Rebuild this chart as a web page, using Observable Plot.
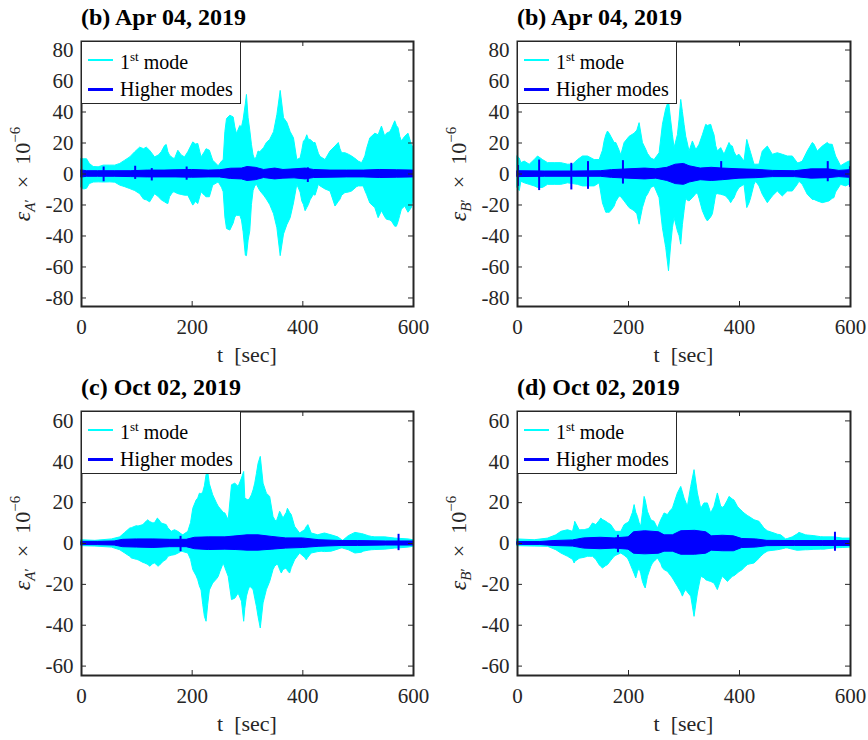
<!DOCTYPE html>
<html>
<head>
<meta charset="utf-8">
<script src="https://cdn.jsdelivr.net/npm/d3@7"></script>
<script src="https://cdn.jsdelivr.net/npm/@observablehq/plot@0.6"></script>
<style>
  body { margin: 0; background: #fff; }
  #fig { position: relative; width: 868px; height: 740px; overflow: hidden;
         font-family: "Liberation Serif", "DejaVu Serif", serif; color: #262626; }
  .panel { position: absolute; width: 434px; height: 370px; }
  .panel svg { position: absolute; left: 0; top: 0; overflow: visible; }
  .title { position: absolute; font-weight: bold; font-size: 24px; color: #000; white-space: nowrap; line-height: 1; }
  .ylab { position: absolute; font-size: 22px; white-space: nowrap; line-height: 1;
          transform: translate(-50%, -50%) rotate(-90deg); }
  .ylab .eps { font-size: 24px; }
  .ylab sub { font-size: 15px; vertical-align: -5px; }
  .ylab sup { font-size: 15px; vertical-align: 10px; }
  .xlab { position: absolute; font-size: 22px; white-space: nowrap; line-height: 1; transform: translateX(-50%); }
  .legend { position: absolute; width: 160px; height: 63px; background: #fff;
            border: 1.5px solid #262626; box-sizing: border-box; }
  .legend .sw { position: absolute; left: 6px; width: 25px; }
  .legend .lt { position: absolute; left: 38px; font-size: 20px; color: #000; white-space: nowrap; line-height: 1; }
  .legend .lt sup { font-size: 13px; vertical-align: 8px; }
</style>
</head>
<body>
<div id="fig"></div>
<script>
// Strain envelopes [t (sec), upper, lower] in units of 1e-6.
// First-mode component, sensor A', Apr 04 2019
const aprA_first = [
[0,9.7,-9],[5,9.5,-10],[10,9.5,-9.5],[15,6.5,-6.5],[22,4.5,-5.5],[31,4.3,-5.4],[40,5.4,-5.5],[52,5.4,-5.4],[61,5.4,-5.6],[70,6.5,-7.5],[79,8.6,-8.5],[88,10.7,-9.7],[97,14,-11],[106,17,-13],[113,16,-16.5],[118,17,-17],[124,15,-18.3],[133,10.7,-13],[140,12,-15],[145,14,-17],[151,18,-18.3],[154,18.7,-19],[157,14,-19.4],[160,11.8,-15],[166,10,-11.8],[169,9.7,-12],[175,15,-13],[181,12,-13.5],[187,10.7,-14],[193,14,-14],[202,20.4,-20.4],[207,19,-18],[211,19.4,-19.4],[217,10.7,-11.8],[223,14,-14],[226,16,-15],[232,15,-15],[238,8.6,-7.5],[248,5,-5.4],[254,8,-9],[257,9,-11.8],[260,27,-28],[263,35.5,-35.5],[269,37.6,-36.5],[275,36.5,-32],[278,30,-28],[281,25.8,-27],[287,31,-27],[290,30,-30],[293,35,-37.6],[297,45,-52.7],[299,51,-53],[302,36,-43],[305,28,-37],[308,18.8,-20],[311,12,-11],[314,9,-8],[317,11,-7],[320,14.5,-9],[323,14,-11],[330,16.7,-14],[335,20,-16.5],[341,22,-20],[348,27,-26],[354,38,-35],[360,53.6,-53],[366,36,-39],[372,33,-33],[378,27,-28.5],[384,23,-19],[390,9,-7],[396,10,-12],[399,15,-17.7],[402,21,-20],[405,22,-24],[408,25,-22],[411,22,-20],[414,22,-17],[420,20,-13.4],[423,20,-14],[429,13,-7],[432,11,-8],[441,9,-10],[450,14.5,-11.3],[459,17.7,-21],[465,20,-18],[468,16,-16.6],[471,13.4,-14],[477,13.4,-12.3],[483,12.5,-12],[489,11.3,-11.3],[498,9,-8.5],[501,8,-8],[507,7,-8],[510,9,-8],[513,11.3,-11],[516,16,-13.4],[522,23,-19],[531,26,-22],[537,25,-28.5],[543,30.6,-24],[549,24,-28],[552,26,-29.5],[558,27,-30],[561,29,-30.6],[567,34,-34],[570,31,-34],[573,29.5,-31],[576,24,-27],[579,21,-23],[585,24,-21],[591,26,-25],[597,18.8,-22],[600,16.7,-15.5]
];
const aprA_higher = [
[0,2.3,-2.3],[10,1.8,-1.8],[30,1.8,-1.8],[60,1.8,-1.8],[90,1.8,-2],[120,2.2,-2.2],[150,2.2,-2.2],[170,2.4,-2.2],[200,2.6,-2.4],[230,2.2,-2.2],[250,2.4,-2.2],[270,3.4,-3.2],[290,3.5,-3.5],[300,4.5,-4.5],[315,4,-4],[330,2.6,-2.6],[350,3.5,-3.5],[365,2.6,-3],[385,3,-2.8],[405,3.5,-3.5],[420,2.6,-2.6],[450,2.2,-2.4],[480,2.2,-2.2],[510,2.2,-2.2],[540,2.6,-2.6],[570,2.4,-2.4],[600,2.2,-2.2]
];
const aprA_bursts = [[40,4.5,-5],[97,5,-3.5],[127,3.5,-4.5],[190,4.5,-4],[409,4,-5.5]];

// Sensor B', Apr 04 2019
const aprB_first = [
[0,11.3,-9],[4,10,-11],[7,7,-5],[13,8,-6],[22,6,-7],[31,9,-8],[37,11.3,-9],[46,9,-9],[55,7,-7],[67,7,-7],[79,7,-7],[91,6,-6],[100,6,-6.5],[109,9,-7],[118,11.3,-8],[127,11.3,-8],[139,9,-8],[148,9,-6],[154,15,-19],[157,21,-22],[160,25,-25],[163,27.4,-25],[166,26,-25],[169,24,-24],[175,20,-21],[178,20,-18],[184,15,-14.5],[187,12,-15],[193,20,-17.7],[202,24,-22],[211,26,-24],[216,28,-26],[220,32.8,-32.7],[226,20,-22],[232,15.6,-15],[235,13,-13.4],[241,10,-9],[247,9,-8],[256,13.4,-15.6],[262,31.7,-35],[268,42,-47.8],[273,47,-62.8],[277,34,-45.6],[280,25,-35],[283,16.7,-28.4],[289,25,-37],[292,35,-40],[295,47.8,-45.6],[298,40,-33],[301,31.7,-24],[304,24,-15.6],[306,21,-17],[310,14.5,-17.7],[316,21,-15.6],[322,15.6,-13],[325,17,-12.4],[328,18.8,-16],[334,25,-24],[340,31.7,-29],[343,31,-30.6],[349,31.7,-28],[352,28,-26],[355,25,-20],[358,18,-13.4],[361,14.5,-13],[367,16.7,-13.4],[373,12.4,-14],[376,15,-14.5],[382,20,-17],[385,18,-18.8],[388,17.7,-17],[391,14,-15.6],[395,11.3,-12],[400,12.4,-9],[409,8,-7],[414,22,-22],[418,17,-19],[421,13.4,-15.6],[427,6,-7],[430,6,-5],[436,6,-8],[442,14.5,-13.4],[451,17.7,-18.8],[460,12.4,-14.5],[469,13.4,-11.3],[478,12.4,-14.5],[487,11.3,-11.3],[496,11.3,-11.3],[505,7,-7],[508,7,-5],[514,8,-7],[523,14.5,-13.4],[532,20,-16.7],[535,19,-16.7],[541,14.5,-17.7],[550,17.7,-18.8],[559,20,-18],[562,19,-17.7],[568,18.8,-16],[571,15,-15.6],[574,11.3,-12],[583,5,-7],[592,7,-8],[598,8,-7],[600,8,-7]
];
const aprB_higher = [
[0,1.8,-2],[50,1.6,-1.8],[100,1.6,-1.8],[150,1.8,-1.8],[170,2.5,-2.5],[200,3,-3],[230,3.5,-3.5],[250,3,-3],[270,4,-4.5],[285,6,-6.5],[300,6.5,-7],[310,5,-5.5],[330,3.5,-4],[350,4,-4.5],[370,3.5,-4],[400,3,-3],[430,2.7,-2.7],[460,2,-2],[500,1.8,-2],[530,3,-3],[560,3,-2.7],[580,2,-2],[600,2.5,-2.5]
];
const aprB_bursts = [[1,5.5,-8],[39,9,-10.7],[97,6.9,-10.3],[127,8,-9.9],[190,8.6,-6.5],[367,8,-3.9],[559,8,-5],[599,4.7,-8.6]];

// Sensor A', Oct 02 2019
const octA_first = [
[0,1.6,-1.3],[25,1.3,-1.5],[55,2,-2],[70,3,-3.3],[79,5.2,-4.9],[88,7.3,-6.5],[91,7.5,-7.3],[100,8.5,-8],[103,8.3,-8.2],[112,9,-9.5],[115,10,-9.8],[121,11.4,-10.5],[124,10.5,-11.4],[130,9.8,-10],[133,10,-9.8],[138,12.2,-11],[139,12,-11.4],[145,9.8,-10],[148,9.5,-9],[154,9,-8],[157,7.5,-6.5],[163,5.7,-6],[169,6.5,-5.7],[175,5.7,-5],[181,4.5,-4],[184,4,-4.2],[193,5.7,-4.9],[198,10,-8],[202,17,-13],[208,21,-16],[211,22,-18],[214,24.4,-21],[217,24,-23],[220,25,-30],[223,28,-35.9],[226,33.4,-38.3],[229,35,-30],[232,29,-23],[238,23.6,-19.6],[245,19.5,-17.5],[248,18,-16.3],[251,17,-14],[257,15,-9.8],[260,14.7,-12],[266,11.4,-16.3],[272,28.5,-27.7],[278,29.3,-27],[284,27.7,-24.5],[290,31.8,-28.5],[294,35,-38.3],[296,22,-32],[299,21.5,-26],[302,21,-23],[305,22,-21],[308,23.6,-22],[311,26,-22.8],[314,29.3,-27],[317,34,-31],[320,39,-36],[324,42.4,-41.6],[329,29.3,-29.3],[335,24.4,-22.8],[341,22.8,-18.8],[347,13,-13],[350,11.5,-11.4],[353,10.6,-10.6],[356,13,-10.6],[359,15.5,-13],[362,14,-14.7],[365,12.2,-13],[371,15,-12.2],[373,17,-13.5],[377,15,-14.7],[380,13.9,-12],[386,8.2,-8.2],[395,4.9,-4.9],[404,6.5,-7],[407,8,-8.2],[410,9,-7],[416,4.9,-4.9],[428,4,-4.2],[434,4.5,-4],[440,4.9,-4.2],[452,4,-4],[464,3,-3],[470,1.8,-2.4],[473,1.3,-2.5],[483,3.6,-3.3],[495,5.2,-4.9],[507,4.6,-4.5],[510,4.4,-4],[519,3.6,-3.5],[525,3.2,-3.3],[531,3,-3.2],[549,3,-3],[567,2.4,-2.5],[573,2.3,-2.4],[591,2,-2],[600,1.6,-1.6]
];
const octA_higher = [
[0,0.8,-0.8],[30,0.8,-0.8],[60,1,-1],[75,1.8,-1.8],[100,2,-2],[130,2,-2.2],[160,1.8,-1.8],[190,1.8,-1.8],[205,2.8,-2.8],[230,3,-3.2],[260,3,-3],[280,3.5,-3.2],[300,4,-3.5],[320,4,-3.5],[345,3.2,-3],[370,2.5,-2.5],[400,2.5,-2.2],[430,1.6,-1.6],[470,1.2,-1.2],[500,1.2,-1.2],[550,1,-1],[600,1,-1]
];
const octA_bursts = [[179,3.5,-4],[573,4.5,-3.5]];

// Sensor B', Oct 02 2019
const octB_first = [
[0,2,-1.3],[31,1.6,-1.5],[55,2.4,-1.6],[70,4,-3.3],[79,5.7,-4.9],[91,6.5,-6.5],[100,5.7,-8],[103,9,-9.8],[104,10.6,-9],[112,6.5,-7.5],[115,6.5,-7.3],[121,6.5,-7],[127,7,-6.5],[130,7.3,-6.5],[136,9.8,-6.5],[142,9,-8],[148,11,-10.6],[151,12.2,-11.5],[154,11.5,-12.2],[160,10.6,-11],[163,10,-10.6],[169,9,-8.5],[175,6.5,-6.5],[178,5.7,-6],[187,5.7,-4.9],[193,9,-6],[199,10,-7.3],[202,10.6,-9],[208,15,-13],[211,18.8,-15],[214,15,-17.1],[217,13,-14],[220,10,-12.2],[223,8.2,-15],[226,15,-18.8],[229,22.8,-21],[231,21,-22],[235,15.5,-16.3],[241,11.4,-11.5],[244,11,-9.8],[247,10.6,-9],[253,7.3,-7.3],[259,11.4,-10],[262,13,-12.2],[265,14.7,-13],[271,13.9,-13.9],[277,16.3,-16],[280,17,-17.1],[283,19.6,-18.5],[289,24.5,-21.2],[295,27.7,-24],[298,25,-26],[301,22,-24],[304,20,-22.8],[307,18,-24],[313,27.7,-26],[319,35.9,-35.9],[325,24.5,-24.5],[331,17,-16.3],[337,19.6,-17],[340,19.6,-18],[343,19.6,-18.3],[349,14.7,-18.8],[355,18,-19.6],[361,24.5,-22.8],[367,18,-18],[370,17.5,-16.3],[373,18,-17],[379,21,-18.8],[382,22.8,-18],[388,21.5,-16.3],[391,21,-16],[397,18,-14.7],[400,17,-14],[406,15.5,-13],[409,14.7,-12],[415,13.5,-10.6],[418,13,-10.3],[427,11.4,-9.8],[436,10.6,-7.5],[439,9.5,-6.5],[445,7.3,-5],[451,6,-4],[454,5.7,-3.8],[463,4.9,-3.5],[469,4.3,-3.3],[475,4,-3],[484,2,-2.4],[487,2.2,-2.4],[496,3,-3],[505,4.5,-3.6],[508,5.2,-3.5],[520,4,-3.3],[523,3.9,-3.3],[535,3.6,-3.1],[547,3.1,-3],[553,3,-3],[571,3,-2.4],[586,2.4,-2.2],[600,2.4,-2]
];
const octB_higher = [
[0,0.7,-0.7],[40,0.7,-0.7],[65,1.2,-1.2],[100,1.5,-1.5],[120,2.5,-2.5],[150,2.8,-2.8],[175,2.5,-2.5],[200,3,-3],[210,5.5,-5],[230,6,-5.3],[255,5.5,-5],[265,4,-4],[280,4,-4],[295,6,-5.5],[320,6.2,-5.5],[340,5.5,-5],[350,3.5,-3.5],[370,3.8,-3.8],[390,3.5,-3.8],[405,2.2,-2.2],[430,2,-2],[450,1.3,-1.3],[500,1.2,-1.2],[550,1.2,-1.2],[600,1.2,-1.2]
];
const octB_bursts = [[181,4,-4.5],[572,5.5,-3.8]];

// Axis ticks
const timeTicks = [0, 200, 400, 600];
const aprTicks = [-80, -60, -40, -20, 0, 20, 40, 60, 80];
const octTicks = [-60, -40, -20, 0, 20, 40, 60];

const CYAN = "#00FFFF", BLUE = "#0000FF", INK = "#262626";
const SERIF = "'Liberation Serif', 'DejaVu Serif', serif";

const panels = [
  {left: 0,   top: 0,   frame: {l: 81,  r: 413, t: 41,  b: 306}, yMax: 85.5, yTicks: aprTicks,
   title: "(b) Apr 04, 2019", sensor: "A", first: aprA_first, higher: aprA_higher, bursts: aprA_bursts},
  {left: 434, top: 0,   frame: {l: 517, r: 850, t: 41,  b: 306}, yMax: 85.5, yTicks: aprTicks,
   title: "(b) Apr 04, 2019", sensor: "B", first: aprB_first, higher: aprB_higher, bursts: aprB_bursts},
  {left: 0,   top: 370, frame: {l: 81,  r: 413, t: 411, b: 675}, yMax: 64.6, yTicks: octTicks,
   title: "(c) Oct 02, 2019", sensor: "A", first: octA_first, higher: octA_higher, bursts: octA_bursts},
  {left: 434, top: 370, frame: {l: 517, r: 850, t: 411, b: 675}, yMax: 64.6, yTicks: octTicks,
   title: "(d) Oct 02, 2019", sensor: "B", first: octB_first, higher: octB_higher, bursts: octB_bursts}
];

const rows = (arr) => arr.map(([t, hi, lo]) => ({t, hi, lo}));
const fig = document.getElementById("fig");

for (const p of panels) {
  const f = p.frame;
  const iw = f.r - f.l, ih = f.b - f.t;

  const chart = Plot.plot({
    width: 434, height: 370,
    marginLeft: f.l - p.left, marginRight: p.left + 434 - f.r,
    marginTop: f.t - p.top, marginBottom: p.top + 370 - f.b,
    x: {domain: [0, 600]},
    y: {domain: [-p.yMax, p.yMax]},
    style: {fontFamily: SERIF, fontSize: "21px", color: INK, background: "transparent", overflow: "visible"},
    marks: [
      Plot.areaY(rows(p.first), {x: "t", y1: "lo", y2: "hi", fill: CYAN, stroke: CYAN, strokeWidth: 1}),
      Plot.areaY(rows(p.higher), {x: "t", y1: "lo", y2: "hi", fill: BLUE, stroke: BLUE, strokeWidth: 1}),
      Plot.ruleX(rows(p.bursts), {x: "t", y1: "lo", y2: "hi", stroke: BLUE, strokeWidth: 2}),
      // inward tick marks on all four sides
      Plot.tickX(timeTicks, {x: d => d, insetTop: ih - 5, stroke: INK}),
      Plot.tickX(timeTicks, {x: d => d, insetBottom: ih - 5, stroke: INK}),
      Plot.tickY(p.yTicks, {y: d => d, insetRight: iw - 5, stroke: INK}),
      Plot.tickY(p.yTicks, {y: d => d, insetLeft: iw - 5, stroke: INK}),
      Plot.axisX(timeTicks, {tickSize: 0, tickPadding: 13, tickFormat: d => String(d), label: null}),
      Plot.axisY(p.yTicks, {tickSize: 0, tickPadding: 8, tickFormat: d => String(d), label: null}),
      Plot.frame({stroke: INK, strokeWidth: 2})
    ]
  });

  const holder = document.createElement("div");
  holder.className = "panel";
  holder.style.left = p.left + "px";
  holder.style.top = p.top + "px";
  holder.appendChild(chart);
  fig.appendChild(holder);

  const title = document.createElement("div");
  title.className = "title";
  title.textContent = p.title;
  title.style.left = f.l + "px";
  title.style.top = (f.t - 36) + "px";
  fig.appendChild(title);

  const ylab = document.createElement("div");
  ylab.className = "ylab";
  ylab.innerHTML = `<i class="eps">ε</i><sub><i>${p.sensor}</i>′</sub>&ensp;×&ensp;10<sup>−6</sup>`;
  ylab.style.left = (f.l - 58) + "px";
  ylab.style.top = ((f.t + f.b) / 2) + "px";
  fig.appendChild(ylab);

  const xlab = document.createElement("div");
  xlab.className = "xlab";
  xlab.innerHTML = "t&nbsp;&nbsp;[sec]";
  xlab.style.left = ((f.l + f.r) / 2) + "px";
  xlab.style.top = (f.b + 38) + "px";
  fig.appendChild(xlab);

  const legend = document.createElement("div");
  legend.className = "legend";
  legend.style.left = f.l + "px";
  legend.style.top = f.t + "px";
  legend.innerHTML =
    `<div class="sw" style="top:17px;height:2px;background:${CYAN}"></div>` +
    `<div class="lt" style="top:8px">1<sup>st</sup> mode</div>` +
    `<div class="sw" style="top:46px;height:2.5px;background:${BLUE}"></div>` +
    `<div class="lt" style="top:37px">Higher modes</div>`;
  fig.appendChild(legend);
}
</script>
</body>
</html>
